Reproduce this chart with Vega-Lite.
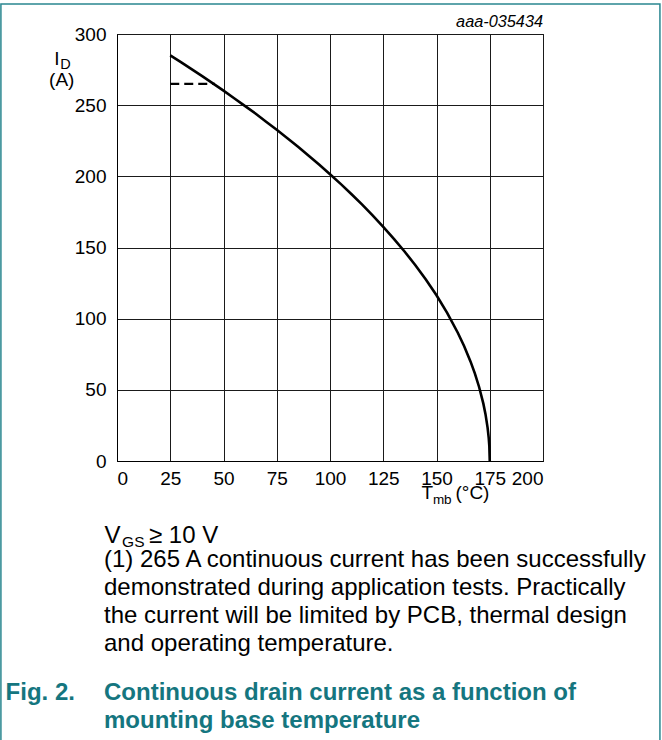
{
  "$schema": "https://vega.github.io/schema/vega-lite/v6.json",
  "width": 426,
  "height": 427,
  "autosize": {"type": "none"},
  "padding": {"left": 117, "top": 34, "right": 119, "bottom": 279},
  "background": "#ffffff",
  "config": {
    "font": "Liberation Sans",
    "view": {"stroke": "#000000", "strokeWidth": 1},
    "axis": {
      "grid": true,
      "gridColor": "#1a1a1a",
      "gridWidth": 1,
      "gridOpacity": 1,
      "ticks": false,
      "tickSize": 0,
      "domainColor": "#000000",
      "domainWidth": 1,
      "labelFont": "Liberation Sans",
      "labelFontSize": 19,
      "labelColor": "#000000",
      "title": null
    }
  },
  "datasets": {
    "curve": [
      {"T": 25, "I": 285.0}, {"T": 30, "I": 280.2}, {"T": 35, "I": 275.3}, {"T": 40, "I": 270.4},
      {"T": 45, "I": 265.3}, {"T": 50, "I": 260.2}, {"T": 55, "I": 254.9}, {"T": 60, "I": 249.5},
      {"T": 65, "I": 244.1}, {"T": 70, "I": 238.4}, {"T": 75, "I": 232.7}, {"T": 80, "I": 226.8},
      {"T": 85, "I": 220.8}, {"T": 90, "I": 214.5}, {"T": 95, "I": 208.1}, {"T": 100, "I": 201.5},
      {"T": 105, "I": 194.7}, {"T": 110, "I": 187.6}, {"T": 115, "I": 180.3}, {"T": 120, "I": 172.6},
      {"T": 125, "I": 164.5}, {"T": 130, "I": 156.1}, {"T": 135, "I": 147.2}, {"T": 140, "I": 137.7},
      {"T": 145, "I": 127.5}, {"T": 150, "I": 116.4}, {"T": 155, "I": 104.1}, {"T": 160, "I": 90.1},
      {"T": 163, "I": 80.6}, {"T": 166, "I": 69.8}, {"T": 168, "I": 61.6}, {"T": 170, "I": 52.0},
      {"T": 172, "I": 40.3}, {"T": 173, "I": 32.9}, {"T": 174, "I": 23.3}, {"T": 174.5, "I": 16.5},
      {"T": 174.8, "I": 10.4}, {"T": 175, "I": 0}
    ],
    "limit": [{"T": 25, "I": 265}, {"T": 46, "I": 265}]
  },
  "layer": [
    {
      "data": {"name": "curve"},
      "mark": {"type": "line", "color": "#000000", "strokeWidth": 2.6, "interpolate": "linear"},
      "encoding": {
        "x": {"field": "T", "type": "quantitative",
              "scale": {"domain": [0, 200], "nice": false, "zero": false},
              "axis": {"values": [0, 25, 50, 75, 100, 125, 150, 175, 200], "labelPadding": 8, "labelBaseline": "top"}},
        "y": {"field": "I", "type": "quantitative",
              "scale": {"domain": [0, 300], "nice": false, "zero": false},
              "axis": {"values": [0, 25, 50, 75, 100, 125, 150, 175, 200, 225, 250, 275, 300],
                       "labelExpr": "datum.value % 50 === 0 ? datum.label : ''",
                       "labelPadding": 11}}
      }
    },
    {
      "data": {"name": "limit"},
      "mark": {"type": "line", "color": "#000000", "strokeWidth": 2.2, "strokeDash": [9, 5]},
      "encoding": {
        "x": {"field": "T", "type": "quantitative"},
        "y": {"field": "I", "type": "quantitative"}
      }
    },
    {
      "data": {"values": [{"t": "aaa-035434"}]},
      "mark": {"type": "text", "font": "Liberation Sans", "fontStyle": "italic", "fontSize": 16.3, "align": "right", "baseline": "alphabetic", "color": "#000000"},
      "encoding": {"x": {"datum": 200}, "y": {"datum": 304.9}, "text": {"field": "t"}}
    },
    {
      "data": {"values": [{"t": "I"}]},
      "mark": {"type": "text", "fontSize": 19, "align": "left", "baseline": "alphabetic", "color": "#000000"},
      "encoding": {"x": {"datum": -29.5}, "y": {"datum": 278.2}, "text": {"field": "t"}}
    },
    {
      "data": {"values": [{"t": "D"}]},
      "mark": {"type": "text", "fontSize": 14.5, "align": "left", "baseline": "alphabetic", "color": "#000000"},
      "encoding": {"x": {"datum": -26.6}, "y": {"datum": 275.2}, "text": {"field": "t"}}
    },
    {
      "data": {"values": [{"t": "(A)"}]},
      "mark": {"type": "text", "fontSize": 19, "align": "left", "baseline": "alphabetic", "color": "#000000"},
      "encoding": {"x": {"datum": -31.9}, "y": {"datum": 263.5}, "text": {"field": "t"}}
    },
    {
      "data": {"values": [{"t": "T"}]},
      "mark": {"type": "text", "fontSize": 19, "align": "left", "baseline": "alphabetic", "color": "#000000"},
      "encoding": {"x": {"datum": 142.9}, "y": {"datum": -26.4}, "text": {"field": "t"}}
    },
    {
      "data": {"values": [{"t": "mb"}]},
      "mark": {"type": "text", "fontSize": 13.5, "align": "left", "baseline": "alphabetic", "color": "#000000"},
      "encoding": {"x": {"datum": 148.3}, "y": {"datum": -30.2}, "text": {"field": "t"}}
    },
    {
      "data": {"values": [{"t": "(°C)"}]},
      "mark": {"type": "text", "fontSize": 19, "align": "left", "baseline": "alphabetic", "color": "#000000"},
      "encoding": {"x": {"datum": 158.9}, "y": {"datum": -26.4}, "text": {"field": "t"}}
    },
    {
      "data": {"values": [{"t": "V"}]},
      "mark": {"type": "text", "fontSize": 24, "align": "left", "baseline": "alphabetic", "color": "#000000"},
      "encoding": {"x": {"datum": -5.9}, "y": {"datum": -57.6}, "text": {"field": "t"}}
    },
    {
      "data": {"values": [{"t": "GS"}]},
      "mark": {"type": "text", "fontSize": 15.5, "align": "left", "baseline": "alphabetic", "color": "#000000"},
      "encoding": {"x": {"datum": 2.4}, "y": {"datum": -60.4}, "text": {"field": "t"}}
    },
    {
      "data": {"values": [{"t": "≥ 10 V"}]},
      "mark": {"type": "text", "fontSize": 24, "align": "left", "baseline": "alphabetic", "color": "#000000"},
      "encoding": {"x": {"datum": 15.0}, "y": {"datum": -57.6}, "text": {"field": "t"}}
    },
    {
      "data": {"values": [{"t": ["(1) 265 A continuous current has been successfully", "demonstrated during application tests. Practically", "the current will be limited by PCB, thermal design", "and operating temperature."]}]},
      "mark": {"type": "text", "fontSize": 24, "lineHeight": 28, "align": "left", "baseline": "alphabetic", "color": "#000000"},
      "encoding": {"x": {"datum": -6.1}, "y": {"datum": -74.5}, "text": {"field": "t"}}
    },
    {
      "data": {"values": [{"t": "Fig. 2."}]},
      "mark": {"type": "text", "fontSize": 24, "fontWeight": "bold", "align": "left", "baseline": "alphabetic", "color": "#15767f"},
      "encoding": {"x": {"datum": -52.3}, "y": {"datum": -167.9}, "text": {"field": "t"}}
    },
    {
      "data": {"values": [{"t": ["Continuous drain current as a function of", "mounting base temperature"]}]},
      "mark": {"type": "text", "fontSize": 24, "fontWeight": "bold", "lineHeight": 28, "align": "left", "baseline": "alphabetic", "color": "#15767f"},
      "encoding": {"x": {"datum": -6.1}, "y": {"datum": -167.9}, "text": {"field": "t"}}
    },
    {
      "data": {"values": [{"frame": "outline"}]},
      "mark": {"type": "rect", "fill": null, "fillOpacity": 0, "stroke": "#2a8790", "strokeWidth": 1.5},
      "encoding": {"x": {"datum": -54.5}, "x2": {"datum": 254.9}, "y": {"datum": 321.1}, "y2": {"datum": -199.5}}
    }
  ]
}
